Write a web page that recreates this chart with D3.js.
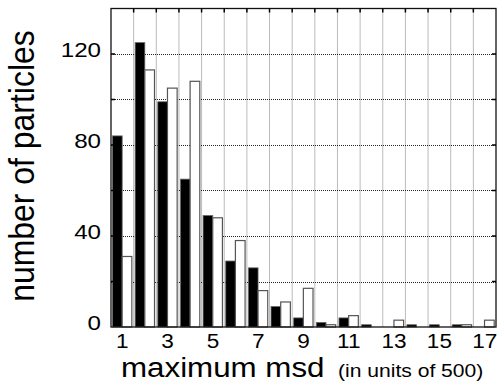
<!DOCTYPE html>
<html><head><meta charset="utf-8">
<script src="https://cdn.jsdelivr.net/npm/d3@7/dist/d3.min.js"></script>
<style>
html,body{margin:0;padding:0;background:#fff;}
text{font-family:"Liberation Sans",Arial,Helvetica,sans-serif;fill:#000;}
</style></head>
<body>
<svg id="chart" width="501" height="387"></svg>
<script>
const categories = [1,2,3,4,5,6,7,8,9,10,11,12,13,14,15,16,17];
const seriesBlack = [84,125,99,65,49,29,26,9,4,2,4,1,0,1,1,1,0];
const seriesWhite = [31,113,105,108,48,38,16,11,17,1,5,0,3,0,0,1,3];
const yTicks = [0,20,40,60,80,100,120,140];
const yTickLabels = [0,40,80,120];
const xTickLabels = [1,3,5,7,9,11,13,15,17];
const xTitle = "maximum msd";
const xSubTitle = "(in units of 500)";
const yTitle = "number of particles";

const svg = d3.select("#chart");
const L = 111, R = 496, T = 8.5, B = 327;
const x = d3.scaleBand().domain(categories).range([L, R]).paddingInner(0).paddingOuter(0);
const bw = x.bandwidth();
const xs = d3.scaleBand().domain(["black","white"]).range([1.5, bw - 1.8]).paddingInner(0);
const y = d3.scaleLinear().domain([0, 140]).range([B, T]);

// grid: vertical dotted at band boundaries
const bounds = categories.slice(1).map(c => x(c));
svg.append("g").selectAll("line").data(bounds).join("line")
  .attr("x1", d => d).attr("x2", d => d).attr("y1", T).attr("y2", B)
  .attr("stroke", "#777").attr("stroke-width", 1).attr("stroke-dasharray", "1,1");
// horizontal dotted
svg.append("g").selectAll("line").data(yTicks.filter(v => v > 0 && v < 140)).join("line")
  .attr("x1", L).attr("x2", R).attr("y1", d => Math.round(y(d)) + 0.5).attr("y2", d => Math.round(y(d)) + 0.5)
  .attr("stroke", "#222").attr("stroke-width", 1).attr("stroke-dasharray", "1,1");

// bars
const data = categories.map((c, i) => ({c, b: seriesBlack[i], w: seriesWhite[i]}));
const g = svg.append("g");
g.selectAll("rect.b").data(data.filter(d => d.b > 0)).join("rect").attr("class", "b")
  .attr("x", d => x(d.c) + xs("black")).attr("width", xs.bandwidth())
  .attr("y", d => y(d.b)).attr("height", d => B - y(d.b))
  .attr("fill", "#000").attr("stroke", "#666").attr("stroke-width", 0.8);
g.selectAll("rect.w").data(data.filter(d => d.w > 0)).join("rect").attr("class", "w")
  .attr("x", d => x(d.c) + xs("white")).attr("width", xs.bandwidth())
  .attr("y", d => y(d.w)).attr("height", d => B - y(d.w))
  .attr("fill", "#fff").attr("stroke", "#555").attr("stroke-width", 1.2);

// frame
svg.append("rect").attr("x", L).attr("y", T).attr("width", R - L).attr("height", B - T)
  .attr("fill", "none").attr("stroke", "#111").attr("stroke-width", 1.3);

// inner ticks left/right/top
const tk = svg.append("g");
yTicks.filter(v => v > 0 && v < 140).forEach(v => {
  tk.append("line").attr("x1", L).attr("x2", L + 4).attr("y1", y(v)).attr("y2", y(v)).attr("stroke", "#000").attr("stroke-width", 1.5);
  tk.append("line").attr("x1", R - 4).attr("x2", R).attr("y1", y(v)).attr("y2", y(v)).attr("stroke", "#000").attr("stroke-width", 1.5);
});
bounds.forEach(b => {
  tk.append("line").attr("x1", b).attr("x2", b).attr("y1", T).attr("y2", T + 4).attr("stroke", "#000").attr("stroke-width", 1.5);
});

// y tick labels
svg.append("g").selectAll("text").data(yTickLabels).join("text")
  .attr("transform", d => `translate(101,${y(d) + 3}) scale(1.15,1)`)
  .attr("text-anchor", "end").attr("font-size", 21).text(d => d);

// x tick labels
svg.append("g").selectAll("text").data(xTickLabels).join("text")
  .attr("transform", d => `translate(${x(d) + bw / 2},347.8) scale(1.1,1)`)
  .attr("text-anchor", "middle").attr("font-size", 20.5).text(d => d);

// x title
svg.append("text").attr("transform", "translate(121,376.5) scale(1.16,1)")
  .attr("font-size", 27).text(xTitle);
svg.append("text").attr("transform", "translate(338,376.5) scale(1.14,1)")
  .attr("font-size", 18.5).text(xSubTitle);

// y title
svg.append("text").attr("transform", "translate(34,166) rotate(-90) scale(1.03,1.12)")
  .attr("text-anchor", "middle").attr("font-size", 31).text(yTitle);
</script>
</body></html>
